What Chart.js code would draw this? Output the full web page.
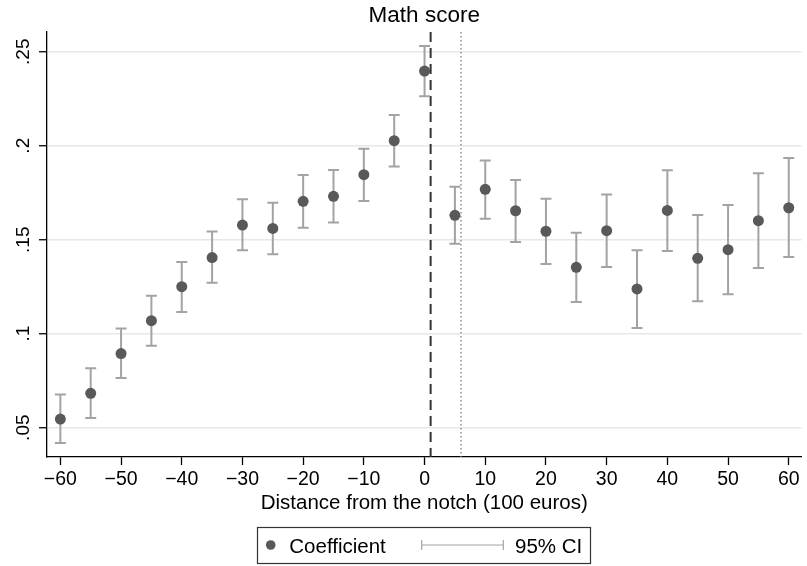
<!DOCTYPE html>
<html>
<head>
<meta charset="utf-8">
<script src="https://cdn.jsdelivr.net/npm/chart.js@4/dist/chart.umd.min.js"></script>
<style>
  html, body { margin: 0; padding: 0; background: #fff; }
  canvas { display: block; }
</style>
</head>
<body>
<canvas id="c" width="807" height="566"></canvas>
<script>
// Distance bins (100 euros) relative to the notch
const distance = [-60, -55, -50, -45, -40, -35, -30, -25, -20, -15, -10, -5, 0,
                  5, 10, 15, 20, 25, 30, 35, 40, 45, 50, 55, 60];
// Point estimates
const coefficient = [0.0546, 0.0683, 0.0894, 0.1069, 0.1250, 0.1405, 0.1578, 0.1560,
                     0.1704, 0.1731, 0.1846, 0.2027, 0.2397,
                     0.1630, 0.1768, 0.1654, 0.1545, 0.1353, 0.1548, 0.1238,
                     0.1656, 0.1401, 0.1447, 0.1601, 0.1670];
// 95% confidence interval bounds
const ciLow = [0.0419, 0.0552, 0.0764, 0.0936, 0.1115, 0.1271, 0.1444, 0.1422,
               0.1564, 0.1592, 0.1706, 0.1890, 0.2263,
               0.1479, 0.1612, 0.1488, 0.1371, 0.1169, 0.1355, 0.1030,
               0.1440, 0.1172, 0.1210, 0.1349, 0.1408];
const ciHigh = [0.0676, 0.0816, 0.1027, 0.1202, 0.1381, 0.1543, 0.1715, 0.1697,
                0.1844, 0.1871, 0.1984, 0.2163, 0.2530,
                0.1782, 0.1922, 0.1818, 0.1718, 0.1537, 0.1741, 0.1444,
                0.1869, 0.1631, 0.1685, 0.1853, 0.1935];
// Axis ticks
const xTicks = [-60, -50, -40, -30, -20, -10, 0, 10, 20, 30, 40, 50, 60];
const yTicks = [0.05, 0.10, 0.15, 0.20, 0.25];
const yTickLabels = ['.05', '.1', '.15', '.2', '.25'];
// Vertical reference lines: the notch (dashed) and the dotted marker
const notchLine = 1;
const dottedLine = 6;

const FONT = '"Liberation Sans", Arial, Helvetica, sans-serif';
const MINUS = '\u2212';

function fmtX(v) { return v < 0 ? MINUS + Math.abs(v) : String(v); }

const decorations = {
  id: 'decorations',
  beforeDatasetsDraw(chart) {
    const ctx = chart.ctx;
    const x = chart.scales.x, y = chart.scales.y;
    const area = chart.chartArea;
    ctx.save();
    // dotted line
    ctx.strokeStyle = '#777';
    ctx.lineWidth = 1.2;
    ctx.setLineDash([1.5, 2.5]);
    let px = x.getPixelForValue(dottedLine);
    ctx.beginPath(); ctx.moveTo(px, area.top); ctx.lineTo(px, area.bottom); ctx.stroke();
    // dashed line
    ctx.strokeStyle = '#333';
    ctx.lineWidth = 2;
    ctx.setLineDash([10, 6]);
    px = x.getPixelForValue(notchLine);
    ctx.beginPath(); ctx.moveTo(px, area.top); ctx.lineTo(px, area.bottom); ctx.stroke();
    ctx.setLineDash([]);
    // confidence interval bars
    ctx.strokeStyle = '#a3a3a3';
    ctx.lineWidth = 2;
    const cap = 5.5;
    distance.forEach((d, i) => {
      const cx = x.getPixelForValue(d);
      const lo = y.getPixelForValue(ciLow[i]);
      const hi = y.getPixelForValue(ciHigh[i]);
      ctx.beginPath();
      ctx.moveTo(cx, lo); ctx.lineTo(cx, hi);
      ctx.moveTo(cx - cap, lo); ctx.lineTo(cx + cap, lo);
      ctx.moveTo(cx - cap, hi); ctx.lineTo(cx + cap, hi);
      ctx.stroke();
    });
    ctx.restore();
  },
  afterDraw(chart) {
    const ctx = chart.ctx;
    const x = chart.scales.x, y = chart.scales.y;
    const area = chart.chartArea;
    const midX = (area.left + area.right) / 2;
    ctx.save();
    ctx.fillStyle = '#000';
    // title
    ctx.font = '22.5px ' + FONT;
    ctx.textAlign = 'center';
    ctx.textBaseline = 'alphabetic';
    ctx.fillText('Math score', midX, 22);
    // x tick labels
    ctx.font = '19.5px ' + FONT;
    x.ticks.forEach(t => {
      ctx.fillText(fmtX(t.value), x.getPixelForValue(t.value), 485);
    });
    // y tick labels, rotated
    ctx.font = '19px ' + FONT;
    y.ticks.forEach((t, i) => {
      const py = y.getPixelForValue(t.value);
      ctx.save();
      ctx.translate(28.5, py);
      ctx.rotate(-Math.PI / 2);
      ctx.textAlign = 'center';
      ctx.fillText(yTickLabels[yTicks.indexOf(t.value)], 0, 0);
      ctx.restore();
    });
    // x axis title
    ctx.font = '20.5px ' + FONT;
    ctx.fillText('Distance from the notch (100 euros)', midX, 509);
    // legend
    const bx = 257, by = 527, bw = 333, bh = 36;
    ctx.strokeStyle = '#333';
    ctx.lineWidth = 1.2;
    ctx.strokeRect(bx + 0.5, by + 0.5, bw, bh);
    const ly = by + bh / 2;
    ctx.fillStyle = '#595959';
    ctx.beginPath(); ctx.arc(270.7, ly, 4.8, 0, Math.PI * 2); ctx.fill();
    ctx.fillStyle = '#000';
    ctx.textAlign = 'left';
    ctx.font = '20.5px ' + FONT;
    ctx.fillText('Coefficient', 289.3, ly + 7.5);
    ctx.strokeStyle = '#a3a3a3';
    ctx.lineWidth = 1.2;
    ctx.beginPath();
    ctx.moveTo(421.7, ly); ctx.lineTo(503.3, ly);
    ctx.moveTo(421.7, ly - 5); ctx.lineTo(421.7, ly + 5);
    ctx.moveTo(503.3, ly - 5); ctx.lineTo(503.3, ly + 5);
    ctx.stroke();
    ctx.fillText('95% CI', 515, ly + 7.5);
    ctx.restore();
  }
};

new Chart(document.getElementById('c'), {
  type: 'scatter',
  data: {
    datasets: [{
      label: 'Coefficient',
      data: distance.map((d, i) => ({ x: d, y: coefficient[i] })),
      pointRadius: 5.5,
      pointHoverRadius: 5.5,
      pointBackgroundColor: '#595959',
      pointBorderWidth: 0,
      showLine: false
    }]
  },
  options: {
    responsive: false,
    animation: false,
    devicePixelRatio: 1,
    layout: { padding: { top: 32, left: 0, right: 0, bottom: 0 } },
    plugins: { legend: { display: false }, title: { display: false }, tooltip: { enabled: false } },
    scales: {
      x: {
        type: 'linear',
        position: 'bottom',
        min: -62.2,
        max: 62.1,
        afterBuildTicks: s => { s.ticks = xTicks.map(v => ({ value: v })); },
        afterFit: s => { s.height = 566 - 457; },
        ticks: { display: false },
        grid: { drawOnChartArea: false, drawTicks: true, tickLength: 8, tickColor: '#000', tickWidth: 1.3 },
        border: { color: '#000', width: 1.3 }
      },
      y: {
        type: 'linear',
        min: 0.0344,
        max: 0.2605,
        afterBuildTicks: s => { s.ticks = yTicks.map(v => ({ value: v })); },
        afterFit: s => { s.width = 47; },
        ticks: { display: false },
        grid: { color: '#e8e8e8', lineWidth: 1.5, drawTicks: true, tickLength: 8, tickColor: '#000', tickWidth: 1.3 },
        border: { color: '#000', width: 1.3 }
      }
    }
  },
  plugins: [decorations]
});
</script>
</body>
</html>
